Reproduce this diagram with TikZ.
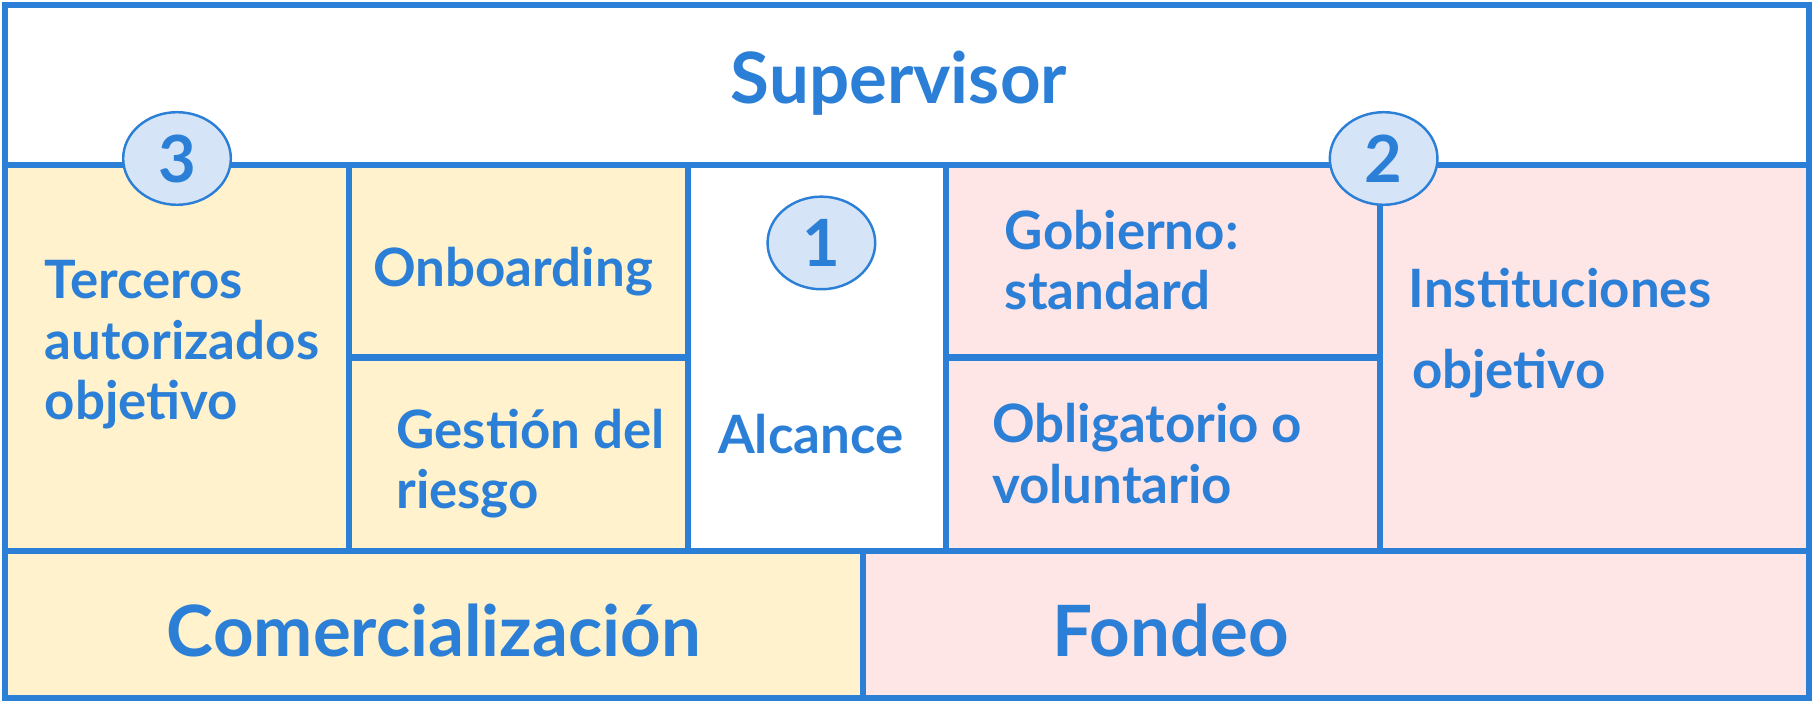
\documentclass[tikz,border=0pt]{standalone}
\usepackage{fontspec}
\setmainfont{Lato}
\usetikzlibrary{shapes.geometric}

\definecolor{azul}{HTML}{2B7FD6}
\definecolor{amarillo}{HTML}{FFF2CC}
\definecolor{rosa}{HTML}{FFE6E6}
\definecolor{celeste}{HTML}{D5E5F7}

\begin{document}
\begin{tikzpicture}[x=0.01cm, y=-0.01cm,
        celda/.style={draw=azul, line width=1.5pt},
        texto/.style={text=azul, font=\bfseries\fontsize{13}{14.8}\selectfont, align=left, anchor=west, inner sep=0pt},
        titulo/.style={text=azul, font=\bfseries\fontsize{17.4}{20}\selectfont, inner sep=0pt},
        numero/.style={ellipse, draw=azul, fill=celeste, line width=0.6pt, minimum width=0.93cm, minimum height=0.8cm, inner sep=0pt, text=azul, font=\bfseries\fontsize{16}{18}\selectfont}]
            \useasboundingbox (0,0) rectangle (1568,606);

            % Fila superior
            \filldraw[celda, fill=white] (4,4) rectangle (1564,143);

            % Fila central
            \filldraw[celda, fill=amarillo] (4,143) rectangle (302,476);
            \filldraw[celda, fill=amarillo] (302,143) rectangle (595,309);
            \filldraw[celda, fill=amarillo] (302,309) rectangle (595,476);
            \filldraw[celda, fill=white] (595,143) rectangle (818,476);
            \filldraw[celda, fill=rosa] (818,143) rectangle (1193,309);
            \filldraw[celda, fill=rosa] (818,309) rectangle (1193,476);
            \filldraw[celda, fill=rosa] (1193,143) rectangle (1564,476);

            % Fila inferior
            \filldraw[celda, fill=amarillo] (4,476) rectangle (746,603);
            \filldraw[celda, fill=rosa] (746,476) rectangle (1564,603);

            % Textos
            \node[titulo] (supervisor) at (777,72) {Supervisor};
            \node[texto] (terceros) at (38,298) {Terceros\\autorizados\\objetivo};
            \node[texto] (onboarding) at (322,235) {Onboarding};
            \node[texto] (gestion) at (342,401) {Gestión del\\riesgo};
            \node[texto] (alcance) at (620,375) {Alcance};
            \node[texto] (gobierno) at (868,225) {Gobierno:\\standard};
            \node[texto] (obligatorio) at (857,392) {Obligatorio o\\voluntario};
            \node[texto] (instituciones) at (1217,288) {Instituciones\\[5pt]\hspace*{0.8pt}objetivo};
            \node[titulo] (comercializacion) at (375,545) {Comercialización};
            \node[titulo] (fondeo) at (1012,545) {Fondeo};

            % Numeros
            \node[numero] (tres) at (153,137) {3};
            \node[numero] (dos) at (1196,137) {2};
            \node[numero] (uno) at (710,210) {1};
        \end{tikzpicture}
\end{document}
